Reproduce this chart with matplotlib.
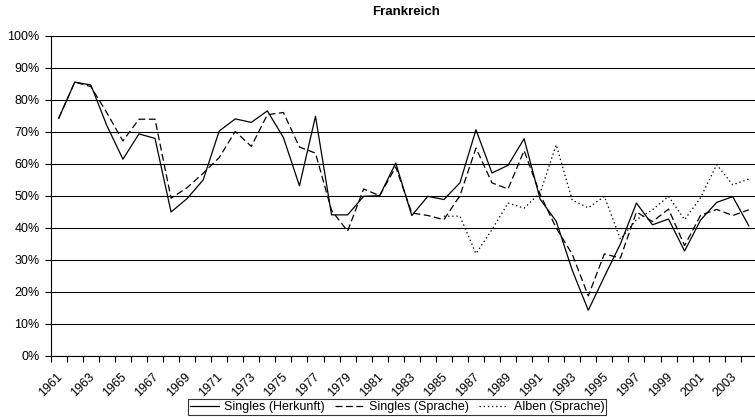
import numpy as np
import matplotlib
matplotlib.use('Agg')
import matplotlib.pyplot as plt
import matplotlib.transforms as mtransforms
from matplotlib.ticker import FixedLocator

plt.rcParams['font.family'] = ['Liberation Sans', 'DejaVu Sans']
plt.rcParams['lines.scale_dashes'] = False

# data (percent)
years = list(range(1961, 2005))

singles_herkunft = [74.3, 85.6, 84.7, 72.0, 61.5, 69.4, 68.0, 45.0, 49.2, 55.0,
                    70.3, 74.1, 73.0, 76.6, 68.3, 53.2, 74.9, 44.1, 44.1, 49.9,
                    50.1, 60.3, 43.9, 49.9, 48.9, 54.1, 70.7, 57.2, 59.6, 67.9,
                    49.0, 42.1, 26.8, 14.3, 24.8, 35.0, 47.8, 41.0, 42.8, 32.8,
                    42.5, 48.0, 49.8, 40.7]

singles_sprache = [74.3, 85.6, 84.2, 76.0, 67.2, 74.0, 74.0, 49.3, 52.6, 57.1,
                   62.0, 70.2, 65.5, 75.4, 76.1, 65.3, 63.4, 45.5, 39.0, 52.2,
                   50.1, 59.1, 44.7, 43.9, 42.6, 50.1, 65.0, 54.1, 52.2, 64.2,
                   50.5, 40.0, 31.8, 18.8, 31.9, 30.6, 45.0, 42.0, 45.9, 34.5,
                   44.0, 45.8, 43.9, 45.7]

# albums only from 1985 on
alben_sprache = [np.nan] * 24 + [43.7, 43.7, 32.0, 39.5, 47.8, 46.2, 51.0, 66.0,
                                 48.7, 46.3, 49.9, 36.5, 42.6, 45.7, 49.9, 42.6,
                                 49.5, 59.8, 53.5, 55.3]

W, H = 755, 417
fig = plt.figure(figsize=(W / 100, H / 100), dpi=100)
# plot area runs slightly past the right edge, like the cropped original
ax = fig.add_axes([50.7 / W, 1 - 356 / H, 706.1 / W, 320 / H])

x = np.arange(len(years))
ax.plot(x, np.array(singles_herkunft) / 100, color='black', lw=0.9,
        label='Singles (Herkunft)')
ax.plot(x, np.array(singles_sprache) / 100, color='black', lw=0.9,
        dashes=(5, 2.5), label='Singles (Sprache)')
ax.plot(x, np.array(alben_sprache) / 100, color='black', lw=0.9,
        dashes=(1, 2), label='Alben (Sprache)')

ax.set_xlim(-0.5, len(years) - 0.5)
ax.set_ylim(0, 1)

# y axis
ax.set_yticks(np.arange(0, 1.01, 0.1))
ax.set_yticklabels([f'{int(round(v * 100))}%' for v in np.arange(0, 1.01, 0.1)])
ax.yaxis.grid(True, color='black', lw=0.8)
ax.set_axisbelow(True)
ax.tick_params(axis='y', length=4, width=0.8, pad=4, labelsize=9)

# x axis: tick marks between categories, labels every other year
ax.xaxis.set_minor_locator(FixedLocator(np.arange(-0.5, len(years), 1.0)))
ax.set_xticks(x[::2])
ax.set_xticklabels([str(y) for y in years[::2]], rotation=45, ha='right',
                   va='center', rotation_mode='anchor')
ax.tick_params(axis='x', which='major', length=0, pad=14, labelsize=9)
ax.tick_params(axis='x', which='minor', length=4, width=0.8)
shift = mtransforms.ScaledTranslation(2 / 100, 0, fig.dpi_scale_trans)
for lab in ax.get_xticklabels():
    lab.set_transform(lab.get_transform() + shift)

for s in ['top', 'right']:
    ax.spines[s].set_visible(False)
ax.spines['left'].set_linewidth(0.8)
ax.spines['bottom'].set_linewidth(0.8)

fig.text(406 / W, 1 - 12 / H, 'Frankreich', ha='center', va='center',
         fontsize=9.5, fontweight='bold')

leg = fig.legend(loc='upper left', bbox_to_anchor=(188 / W, 1 - 399 / H),
                 ncol=3, fontsize=9, frameon=True, fancybox=False,
                 edgecolor='black', handlelength=2.3, handletextpad=0.45,
                 columnspacing=0.8, borderpad=0.15, borderaxespad=0)
leg.get_frame().set_linewidth(0.8)

fig.savefig('out.png', dpi=100)
